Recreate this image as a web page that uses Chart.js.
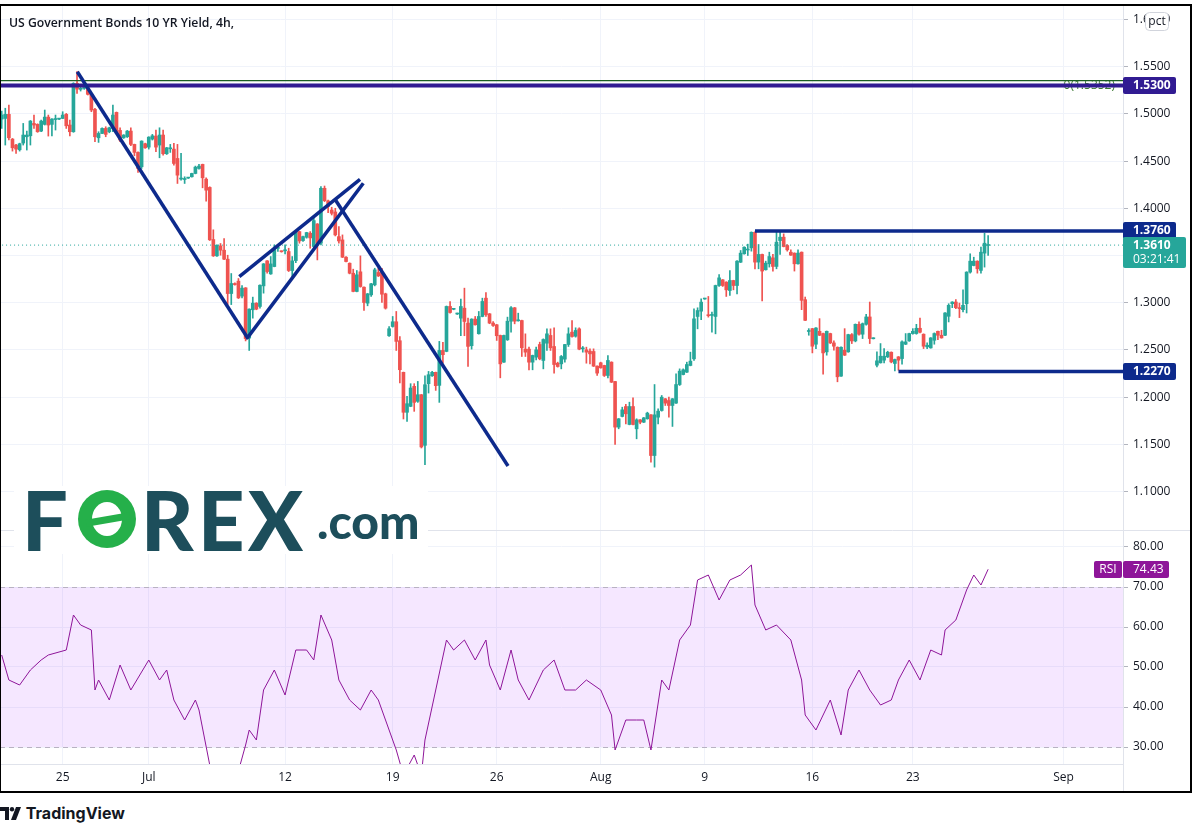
<!DOCTYPE html>
<html><head><meta charset="utf-8">
<script src="https://cdn.jsdelivr.net/npm/chart.js@4.4.1/dist/chart.umd.min.js"></script>
<style>
html,body{margin:0;padding:0;background:#fff;width:1198px;height:829px;overflow:hidden;font-family:'Open Sans',sans-serif;}
canvas{position:absolute;}
#frame{position:absolute;left:0;top:4px;width:1192px;height:789px;border:2px solid #000;border-left-width:1px;box-sizing:border-box;pointer-events:none;z-index:5;}
#title{position:absolute;left:9px;top:13px;font:600 13px 'Open Sans',sans-serif;color:#131722;white-space:nowrap;transform-origin:0 50%;z-index:3;}
#logo{position:absolute;left:14px;top:486px;width:414px;height:68px;background:#fff;z-index:2;}
#logo .big{position:absolute;top:-15px;font:900 81px 'Lato',sans-serif;color:#1d4e5b;}
#logo .o{position:absolute;left:64px;top:4px;width:58px;height:58px;border-radius:50%;background:#25b04a;}
#logo .o i{position:absolute;left:14px;top:12px;width:30px;height:34px;background:#fff;border-radius:50%;}
#logo .o b{position:absolute;left:8px;top:26px;width:44px;height:7px;background:#25b04a;transform:rotate(-10deg);}
#logo .com{position:absolute;left:303px;top:6px;font:900 48px 'Lato',sans-serif;color:#1d4e5b;}
#tv{position:absolute;left:0;top:803px;font:700 16px 'Inter',sans-serif;color:#131722;}
</style></head>
<body>
<canvas id="cPrice" width="1190" height="524" style="left:0;top:6px;width:1190px;height:524px"></canvas>
<canvas id="cRsi" width="1190" height="261" style="left:0;top:530px;width:1190px;height:261px"></canvas>
<div id="title">US Government Bonds 10 YR Yield, 4h,</div>
<div id="logo"><span class="big" style="left:8px">F</span><div class="o"><i></i><b></b></div><span class="big" style="left:127px">R</span><span class="big" style="left:184px">E</span><span class="big" style="left:234px">X</span><span class="com">.com</span></div>
<div id="tv"><svg width="22" height="13" viewBox="0 0 22 13" style="vertical-align:-1px"><path d="M0 0h9v13H5V4H0z" fill="#131722"/><circle cx="12" cy="2.2" r="2.2" fill="#131722"/><path d="M16 0h5l-5 13h-5z" fill="#131722"/></svg> TradingView</div>
<div id="frame"></div>
<script>
// ---- data (4h candles, bar index 0 = first candle) ----
const opens = [
1.4945,1.4952,1.4995,1.4733,1.4670,1.4620,1.4691,1.4758,1.4768,1.4899,
1.4889,1.4818,1.4889,1.4966,1.4889,1.4940,1.4945,1.4952,1.4995,1.4882,
1.4811,1.5323,1.5260,1.5270,1.5277,1.5207,1.5048,1.4747,1.4793,1.4846,
1.4811,1.4846,1.5016,1.4825,1.4747,1.4758,1.4818,1.4677,1.4592,1.4440,
1.4684,1.4648,1.4733,1.4765,1.4670,1.4776,1.4578,1.4630,1.4627,1.4528,
1.4310,1.4305,1.4320,1.4334,1.4369,1.4422,1.4465,1.4309,1.4221,1.3669,
1.3496,1.3602,1.3556,1.3461,1.3097,1.3203,1.3228,1.3070,1.3157,1.2625,
1.2925,1.2995,1.2960,1.3178,1.3443,1.3305,1.3383,1.3575,1.3545,1.3550,
1.3542,1.3341,1.3446,1.3753,1.3658,1.3693,1.3736,1.3595,1.3834,1.3630,
1.4212,1.4078,1.3982,1.3961,1.3700,1.3665,1.3482,1.3418,1.3312,1.3119,
1.3327,1.3164,1.2995,1.3083,1.3189,1.3320,1.3320,1.3094,1.2650,1.2748,
1.2798,1.2597,1.2262,1.1839,1.1902,1.2114,1.1955,1.2025,1.1489,1.2142,
1.2226,1.2262,1.2124,1.2494,1.2484,1.2960,1.2930,1.2880,1.2836,1.2942,
1.2784,1.2544,1.2826,1.2671,1.2854,1.3048,1.2882,1.2784,1.2766,1.2653,
1.2370,1.2607,1.2804,1.2946,1.2808,1.2811,1.2508,1.2508,1.2370,1.2423,
1.2557,1.2388,1.2571,1.2653,1.2536,1.2359,1.2352,1.2402,1.2557,1.2688,
1.2645,1.2723,1.2511,1.2501,1.2487,1.2483,1.2328,1.2363,1.2335,1.2229,
1.2370,1.2165,1.1682,1.1795,1.1900,1.1710,1.1900,1.1664,1.1759,1.1734,
1.1770,1.1812,1.1381,1.1787,1.1858,1.1982,1.1964,1.1911,1.1936,1.2133,
1.2239,1.2264,1.2335,1.2405,1.2854,1.2910,1.3039,1.2868,1.2865,1.2854,
1.3182,1.3242,1.3218,1.3129,1.3235,1.3182,1.3429,1.3518,1.3558,1.3581,
1.3746,1.3430,1.3511,1.3349,1.3412,1.3475,1.3384,1.3658,1.3694,1.3606,
1.3535,1.3525,1.3412,1.3535,1.3032,1.2695,1.2725,1.2560,1.2697,1.2673,
1.2479,1.2673,1.2574,1.2528,1.2222,1.2497,1.2479,1.2662,1.2595,1.2771,
1.2666,1.2771,1.2849,1.2618,1.2338,1.2363,1.2391,1.2426,1.2475,1.2356,
1.2426,1.2408,1.2560,1.2595,1.2673,1.2673,1.2729,1.2666,1.2532,1.2521,
1.2602,1.2697,1.2655,1.2655,1.2856,1.2989,1.3007,1.2940,1.2926,1.2989,
1.3324,1.3394,1.3440,1.3342,1.3525,1.3606];
const highs = [
1.5030,1.5060,1.5094,1.4740,1.4677,1.4690,1.4899,1.4818,1.4930,1.4988,
1.4895,1.4935,1.5041,1.4988,1.4950,1.4988,1.4952,1.5023,1.5005,1.4935,
1.5330,1.5447,1.5288,1.5290,1.5285,1.5217,1.5058,1.4811,1.4853,1.4864,
1.4860,1.5094,1.5020,1.4853,1.4780,1.4825,1.4853,1.4680,1.4599,1.4715,
1.4690,1.4758,1.4783,1.4829,1.4853,1.4829,1.4645,1.4677,1.4687,1.4677,
1.4581,1.4334,1.4327,1.4372,1.4447,1.4465,1.4468,1.4323,1.4228,1.3772,
1.3612,1.3627,1.3680,1.3503,1.3309,1.3210,1.3256,1.3180,1.3160,1.2935,
1.3059,1.3000,1.3190,1.3415,1.3446,1.3489,1.3612,1.3595,1.3548,1.3612,
1.3577,1.3489,1.3764,1.3756,1.3705,1.3746,1.3753,1.3894,1.3838,1.4229,
1.4236,1.4088,1.4011,1.4000,1.3806,1.3718,1.3489,1.3422,1.3355,1.3341,
1.3496,1.3168,1.3098,1.3204,1.3365,1.3365,1.3365,1.3101,1.2748,1.2854,
1.2907,1.2642,1.2265,1.2008,1.2142,1.2142,1.2166,1.2028,1.2226,1.2272,
1.2272,1.2265,1.2590,1.2579,1.2965,1.3013,1.2940,1.2890,1.3037,1.3154,
1.2836,1.2830,1.2854,1.2907,1.3048,1.3108,1.2886,1.2801,1.2770,1.2657,
1.2657,1.2847,1.2960,1.2950,1.2889,1.2815,1.2670,1.2529,1.2445,1.2529,
1.2582,1.2617,1.2723,1.2723,1.2734,1.2370,1.2441,1.2560,1.2734,1.2811,
1.2734,1.2734,1.2536,1.2529,1.2511,1.2511,1.2331,1.2370,1.2338,1.2441,
1.2374,1.2168,1.1773,1.1893,1.1922,1.1946,1.1992,1.1770,1.1762,1.1784,
1.1840,1.1815,1.2133,1.1876,1.2017,1.1985,1.1999,1.1985,1.2246,1.2299,
1.2299,1.2370,1.2476,1.2935,1.2946,1.3041,1.3046,1.3066,1.2900,1.3186,
1.3299,1.3246,1.3222,1.3341,1.3238,1.3447,1.3553,1.3592,1.3620,1.3750,
1.3750,1.3616,1.3515,1.3440,1.3535,1.3511,1.3746,1.3746,1.3729,1.3616,
1.3560,1.3528,1.3560,1.3538,1.3060,1.2725,1.2728,1.2736,1.2831,1.2677,
1.2700,1.2677,1.2595,1.2532,1.2532,1.2725,1.2666,1.2673,1.2775,1.2796,
1.2785,1.2877,1.3007,1.2628,1.2479,1.2567,1.2514,1.2486,1.2479,1.2402,
1.2430,1.2595,1.2673,1.2677,1.2725,1.2771,1.2838,1.2670,1.2574,1.2630,
1.2680,1.2700,1.2708,1.2895,1.2989,1.3011,1.3032,1.2996,1.3137,1.3328,
1.3518,1.3482,1.3444,1.3588,1.3736,1.3711];
const lows = [
1.4846,1.4670,1.4723,1.4606,1.4581,1.4606,1.4670,1.4617,1.4670,1.4846,
1.4805,1.4811,1.4882,1.4765,1.4768,1.4829,1.4940,1.4950,1.4846,1.4768,
1.4805,1.5217,1.5242,1.5260,1.5200,1.5023,1.4705,1.4698,1.4790,1.4758,
1.4800,1.4811,1.4793,1.4705,1.4740,1.4750,1.4663,1.4556,1.4380,1.4422,
1.4635,1.4627,1.4723,1.4599,1.4535,1.4563,1.4570,1.4592,1.4457,1.4263,
1.4298,1.4263,1.4316,1.4330,1.4365,1.4415,1.4217,1.4076,1.3659,1.3490,
1.3490,1.3503,1.3455,1.2980,1.2980,1.3185,1.3044,1.3050,1.2595,1.2494,
1.2836,1.2925,1.2942,1.3101,1.3312,1.3300,1.3380,1.3542,1.3535,1.3517,
1.3330,1.3270,1.3425,1.3630,1.3650,1.3683,1.3577,1.3577,1.3453,1.3612,
1.4071,1.3954,1.3929,1.3707,1.3630,1.3478,1.3432,1.3305,1.3115,1.3115,
1.3164,1.2918,1.2967,1.3066,1.3178,1.3277,1.3002,1.2932,1.2642,1.2741,
1.2494,1.2149,1.1768,1.1743,1.1898,1.1849,1.1944,1.1461,1.1285,1.2043,
1.2219,1.2071,1.1944,1.2360,1.2480,1.2890,1.2925,1.2875,1.2650,1.2650,
1.2325,1.2508,1.2762,1.2667,1.2850,1.2854,1.2777,1.2748,1.2600,1.2204,
1.2366,1.2600,1.2688,1.2776,1.2804,1.2430,1.2430,1.2289,1.2289,1.2395,
1.2395,1.2299,1.2494,1.2494,1.2254,1.2317,1.2299,1.2370,1.2536,1.2635,
1.2635,1.2501,1.2476,1.2359,1.2352,1.2324,1.2229,1.2306,1.2218,1.2204,
1.2154,1.1498,1.1664,1.1790,1.1717,1.1706,1.1706,1.1558,1.1717,1.1730,
1.1766,1.1311,1.1258,1.1717,1.1851,1.1911,1.1787,1.1689,1.1932,1.2123,
1.2235,1.2260,1.2331,1.2388,1.2723,1.2819,1.3036,1.2847,1.2688,1.2670,
1.3172,1.3172,1.3066,1.3076,1.3136,1.3094,1.3425,1.3514,1.3500,1.3546,
1.3359,1.3359,1.3018,1.3345,1.3377,1.3335,1.3359,1.3511,1.3591,1.3546,
1.3500,1.3335,1.3408,1.2926,1.2810,1.2655,1.2468,1.2514,1.2651,1.2243,
1.2444,1.2567,1.2497,1.2162,1.2218,1.2440,1.2475,1.2567,1.2585,1.2655,
1.2620,1.2761,1.2567,1.2616,1.2320,1.2360,1.2363,1.2419,1.2363,1.2278,
1.2285,1.2349,1.2556,1.2591,1.2666,1.2666,1.2680,1.2514,1.2514,1.2518,
1.2560,1.2609,1.2624,1.2651,1.2796,1.2947,1.2937,1.2842,1.2901,1.2891,
1.3313,1.3390,1.3313,1.3313,1.3377,1.3500];
const closes = [
1.4988,1.4995,1.4747,1.4641,1.4627,1.4684,1.4776,1.4776,1.4924,1.4882,
1.4811,1.4924,1.4966,1.4882,1.4945,1.4945,1.4947,1.4988,1.4874,1.4811,
1.5323,1.5263,1.5266,1.5277,1.5207,1.5041,1.4758,1.4793,1.4846,1.4783,
1.4853,1.4988,1.4811,1.4723,1.4776,1.4818,1.4677,1.4592,1.4422,1.4712,
1.4641,1.4754,1.4768,1.4648,1.4776,1.4578,1.4641,1.4634,1.4475,1.4351,
1.4318,1.4312,1.4323,1.4369,1.4436,1.4447,1.4323,1.4192,1.3666,1.3496,
1.3609,1.3556,1.3461,1.3097,1.3203,1.3192,1.3051,1.3154,1.2620,1.2932,
1.2995,1.2932,1.3185,1.3411,1.3330,1.3411,1.3577,1.3580,1.3540,1.3555,
1.3341,1.3443,1.3753,1.3654,1.3700,1.3743,1.3686,1.3870,1.3630,1.4212,
1.4081,1.4018,1.3947,1.3718,1.3654,1.3482,1.3436,1.3312,1.3119,1.3295,
1.3171,1.3002,1.3094,1.3200,1.3348,1.3284,1.3090,1.2942,1.2724,1.2798,
1.2590,1.2290,1.1839,1.1930,1.2096,1.1944,1.2025,1.1472,1.2131,1.2237,
1.2262,1.2121,1.2494,1.2449,1.2960,1.2896,1.2934,1.2884,1.2960,1.2801,
1.2537,1.2826,1.2766,1.2854,1.3013,1.2872,1.2784,1.2759,1.2650,1.2352,
1.2653,1.2804,1.2946,1.2804,1.2811,1.2522,1.2476,1.2370,1.2441,1.2501,
1.2405,1.2610,1.2670,1.2522,1.2345,1.2324,1.2430,1.2557,1.2670,1.2642,
1.2706,1.2508,1.2514,1.2476,1.2458,1.2328,1.2254,1.2310,1.2229,1.2388,
1.2158,1.1682,1.1770,1.1865,1.1823,1.1900,1.1710,1.1759,1.1734,1.1780,
1.1830,1.1381,1.1812,1.1851,1.1999,1.1936,1.1911,1.1982,1.2133,1.2275,
1.2289,1.2345,1.2381,1.2829,1.2917,1.3006,1.3043,1.2862,1.2868,1.3182,
1.3263,1.3182,1.3136,1.3235,1.3182,1.3440,1.3525,1.3588,1.3562,1.3746,
1.3430,1.3511,1.3335,1.3419,1.3489,1.3384,1.3641,1.3694,1.3595,1.3560,
1.3504,1.3412,1.3525,1.3025,1.2813,1.2700,1.2539,1.2732,1.2655,1.2468,
1.2697,1.2574,1.2539,1.2215,1.2528,1.2444,1.2662,1.2595,1.2771,1.2666,
1.2778,1.2849,1.2620,1.2622,1.2384,1.2433,1.2433,1.2475,1.2373,1.2398,
1.2391,1.2585,1.2585,1.2673,1.2697,1.2729,1.2687,1.2539,1.2549,1.2627,
1.2673,1.2655,1.2627,1.2891,1.2972,1.3007,1.2947,1.2937,1.2972,1.3324,
1.3440,1.3440,1.3359,1.3535,1.3630,1.3610];

// RSI(14) readings: bar index and value
const rsiBars = [0,2,5,8,11,13,18,20,22,25,26,27,30,33,36,39,41,44,46,48,51,54,55,58,60,62,66,68,69,71,73,76,79,82,85,87,89,92,94,97,100,103,105,108,110,112,115,117,118,121,124,126,129,132,135,136,139,142,144,147,151,154,157,160,163,167,170,171,174,177,179,181,184,186,189,192,194,197,200,203,206,209,210,213,216,220,223,224,227,231,234,236,239,242,245,248,250,253,256,259,262,263,266,269,271,273,275];
const rsiVals = [53,46.75,45.5,49.25,51.75,53,54.25,63,60.5,59.25,44.25,46.75,41.75,50.5,44.25,48.75,51.75,46.75,49.25,41.75,36.75,41.75,39.25,25.5,19,17,24,30.5,34.25,31.75,44.25,49.25,43,54.25,54.25,51.75,63,56.75,46.75,41.75,39.25,44.25,41.75,34.25,29.25,23,28,23,31.75,44.25,56.75,54.25,56.75,51.75,56.75,50.5,44.25,54.25,46.75,41.75,49.25,51.75,44.25,44.25,46.75,44.25,38,29.25,36.75,36.75,36.75,29.25,46.75,44.25,56.75,60.5,71.75,73,66.75,71.75,73,75.5,65.5,59.25,60.5,56.75,46.75,38,34.25,41.75,33,44.25,49.25,44.25,40.5,41.75,46.75,51.75,46.75,54.25,53,59.25,61.75,69.25,73,70.5,74.43];
const rsiLast = 74.43;

// axis ticks
const tickBars = [17, 41, 79, 109, 138, 167, 196, 226, 254, 296];
const tickLabels = ['25','Jul','12','19','26','Aug','9','16','23','Sep'];
const priceTicks = [1.10,1.15,1.20,1.25,1.30,1.35,1.40,1.45,1.50,1.55,1.60];
const rsiTicks = [30,40,50,60,70,80];

// drawings (bar index, price)
const levelPrices = [1.5300, 1.3760, 1.2270];
const levelStartBars = [-5, 210, 250];
const fibPrice = 1.5352;
const trendSegments = [
  [21.08, 1.5447, 68.75, 1.2615],
  [68.75, 1.2640, 100.81, 1.4265],
  [66.24, 1.3275, 99.89, 1.4307],
  [92.92, 1.4095, 141.15, 1.1270]
];
const countdown = '03:21:41';

// ---- styling / layout ----
const UP = '#26a69a', DN = '#ef5350';
const levelColors = ['#311b92', '#0d2a8c', '#0d2a8c'];
const levelWidths = [4, 3.5, 3.5];
const TREND = '#0d2a8c';
const GRID = '#f0f3fa', AXISLINE = '#e0e3eb', TXT = '#131722';
const RSI_C = '#8e1599';
const FONT = "'Open Sans', sans-serif";
const xMin = -0.474, xMax = 312.6;
const priceMin = 1.0592, priceMax = 1.6143;
const rsiMin = 25.75, rsiMax = 84.25;
const AXIS_W = 67;

const N = closes.length;
const colors = closes.map((c, i) => c >= opens[i] ? UP : DN);
const bodyData = closes.map((c, i) => ({x: i, y: [opens[i], c]}));
const wickData = closes.map((c, i) => ({x: i, y: [lows[i], highs[i]]}));
const lastClose = closes[N - 1];

const lineDs = (pts, color, width, dash, order) => ({
  type: 'line', data: pts, borderColor: color, borderWidth: width, borderDash: dash || [],
  pointRadius: 0, tension: 0, fill: false, order: order, borderCapStyle: 'butt'
});

const datasets = [];
trendSegments.forEach(s => datasets.push(lineDs([{x: s[0], y: s[1]}, {x: s[2], y: s[3]}], TREND, 3.5, null, -3)));
levelPrices.forEach((p, k) => datasets.push(lineDs([{x: levelStartBars[k], y: p}, {x: xMax + 5, y: p}], levelColors[k], levelWidths[k], null, -2)));
datasets.push(lineDs([{x: xMin - 5, y: fibPrice}, {x: xMax + 5, y: fibPrice}], '#1b5e20', 1.2, null, -1));
datasets.push(lineDs([{x: xMin - 5, y: lastClose}, {x: xMax + 5, y: lastClose}], UP, 1, [1, 3], 0));
datasets.push({type: 'bar', data: bodyData, backgroundColor: colors, borderWidth: 0, barThickness: 3, minBarLength: 1, grouped: false, order: 1});
datasets.push({type: 'bar', data: wickData, backgroundColor: colors, borderWidth: 0, barThickness: 1, minBarLength: 1, grouped: false, order: 2});

function rrect(ctx, x, y, w, h, r) {
  ctx.beginPath(); ctx.moveTo(x + r, y); ctx.lineTo(x + w - r, y); ctx.quadraticCurveTo(x + w, y, x + w, y + r);
  ctx.lineTo(x + w, y + h - r); ctx.quadraticCurveTo(x + w, y + h, x + w - r, y + h); ctx.lineTo(x + r, y + h);
  ctx.quadraticCurveTo(x, y + h, x, y + h - r); ctx.lineTo(x, y + r); ctx.quadraticCurveTo(x, y, x + r, y); ctx.closePath();
}

const priceLabels = {
  id: 'priceLabels',
  beforeDatasetsDraw(chart) {
    const ctx = chart.ctx, y = chart.scales.y.getPixelForValue(fibPrice) + 5;
    ctx.save(); ctx.fillStyle = '#3d7a33'; ctx.font = '12px ' + FONT; ctx.textAlign = 'right'; ctx.textBaseline = 'middle';
    ctx.fillText('0(' + fibPrice.toFixed(4) + ')', 1115, y); ctx.restore();
  },
  afterDraw(chart) {
    const ctx = chart.ctx, s = chart.scales.y, L = chart.chartArea.right;
    ctx.save();
    ctx.textBaseline = 'middle'; ctx.textAlign = 'left';
    levelPrices.forEach((p, k) => {
      const y = Math.round(s.getPixelForValue(p));
      ctx.fillStyle = levelColors[k]; rrect(ctx, L, y - 9, 53, 17, 2); ctx.fill();
      ctx.fillStyle = '#fff'; ctx.font = 'bold 12px ' + FONT; ctx.fillText(p.toFixed(4), L + 10, y);
    });
    const y = Math.round(s.getPixelForValue(lastClose));
    ctx.fillStyle = UP; rrect(ctx, L, y - 8, 63, 31, 2); ctx.fill();
    ctx.fillStyle = '#fff'; ctx.font = 'bold 12px ' + FONT; ctx.fillText(lastClose.toFixed(4), L + 10, y + 1);
    ctx.font = '12px ' + FONT; ctx.fillText(countdown, L + 10, y + 15);
    // pct button
    ctx.fillStyle = '#fff'; ctx.strokeStyle = '#d1d4dc'; ctx.lineWidth = 1;
    rrect(ctx, 1145.5, 6.5, 23, 18, 4); ctx.fill(); ctx.stroke();
    ctx.fillStyle = TXT; ctx.font = '12px ' + FONT; ctx.textAlign = 'center'; ctx.fillText('pct', 1157, 15.5);
    ctx.restore();
  }
};

const baseOpts = {
  responsive: false, animation: false, devicePixelRatio: 1, events: [],
  layout: {padding: 0},
  plugins: {legend: {display: false}, tooltip: {enabled: false}}
};
const noPadY = w => s => { s.width = w; s.paddingTop = 0; s.paddingBottom = 0; };
const noPadX = h => s => { s.height = h; s.paddingLeft = 0; s.paddingRight = 0; };

new Chart(document.getElementById('cPrice'), {
  type: 'bar',
  data: {datasets},
  options: Object.assign({}, baseOpts, {
    scales: {
      x: {type: 'linear', min: xMin, max: xMax, offset: false,
          afterBuildTicks: s => { s.ticks = tickBars.map(v => ({value: v})); },
          ticks: {display: false}, grid: {color: GRID, drawTicks: false, offset: false}, border: {display: false},
          afterFit: noPadX(0)},
      y: {position: 'right', min: priceMin, max: priceMax,
          afterBuildTicks: s => { s.ticks = priceTicks.map(v => ({value: v})); },
          ticks: {callback: v => v.toFixed(4), color: TXT, font: {size: 12, family: FONT}, padding: 5, autoSkip: false},
          grid: {color: GRID, tickColor: '#b2b5be', tickLength: 5},
          border: {color: AXISLINE},
          afterFit: noPadY(AXIS_W)}
    }
  }),
  plugins: [priceLabels]
});

const rsiDecor = {
  id: 'rsiDecor',
  beforeDatasetsDraw(chart) {
    const ctx = chart.ctx, s = chart.scales.y, a = chart.chartArea;
    const y70 = s.getPixelForValue(70), y30 = s.getPixelForValue(30);
    ctx.save();
    ctx.fillStyle = 'rgba(153,21,255,0.10)'; ctx.fillRect(a.left, y70, a.right - a.left, y30 - y70);
    ctx.strokeStyle = '#b8b2c2'; ctx.lineWidth = 1; ctx.setLineDash([5, 4]);
    [y70, y30].forEach(y => { ctx.beginPath(); ctx.moveTo(a.left, Math.round(y) + 0.5); ctx.lineTo(a.right, Math.round(y) + 0.5); ctx.stroke(); });
    ctx.restore();
  },
  afterDraw(chart) {
    const ctx = chart.ctx, s = chart.scales.y, a = chart.chartArea;
    ctx.save();
    ctx.strokeStyle = AXISLINE; ctx.lineWidth = 1;
    ctx.beginPath(); ctx.moveTo(0, 0.5); ctx.lineTo(1190, 0.5); ctx.stroke();
    ctx.beginPath(); ctx.moveTo(a.right + 0.5, 0); ctx.lineTo(a.right + 0.5, chart.height); ctx.stroke();
    const y = Math.round(s.getPixelForValue(rsiLast));
    ctx.fillStyle = RSI_C;
    rrect(ctx, a.right - 29, y - 8, 28, 17, 2); ctx.fill();
    rrect(ctx, a.right, y - 8, 46, 17, 2); ctx.fill();
    ctx.fillStyle = '#fff'; ctx.font = '12px ' + FONT; ctx.textBaseline = 'middle'; ctx.textAlign = 'center';
    ctx.fillText('RSI', a.right - 15, y + 1);
    ctx.textAlign = 'left'; ctx.fillText(rsiLast.toFixed(2), a.right + 10, y + 1);
    ctx.restore();
  }
};

new Chart(document.getElementById('cRsi'), {
  type: 'line',
  data: {datasets: [{data: rsiBars.map((b, k) => ({x: b, y: rsiVals[k]})), borderColor: RSI_C, borderWidth: 1,
    pointRadius: 0, tension: 0, fill: false}]},
  options: Object.assign({}, baseOpts, {
    scales: {
      x: {type: 'linear', min: xMin, max: xMax, offset: false,
          afterBuildTicks: s => { s.ticks = tickBars.map(v => ({value: v})); },
          ticks: {callback: v => tickLabels[tickBars.indexOf(v)], color: TXT, font: {size: 12, family: FONT}, padding: 6, maxRotation: 0, autoSkip: false},
          grid: {color: GRID, drawTicks: false, offset: false}, border: {color: AXISLINE},
          afterFit: noPadX(27)},
      y: {position: 'right', min: rsiMin, max: rsiMax,
          afterBuildTicks: s => { s.ticks = rsiTicks.map(v => ({value: v})); },
          ticks: {callback: v => v.toFixed(2), color: TXT, font: {size: 12, family: FONT}, padding: 5, autoSkip: false},
          grid: {color: GRID, tickColor: '#b2b5be', tickLength: 5},
          border: {color: AXISLINE},
          afterFit: noPadY(AXIS_W)}
    }
  }),
  plugins: [rsiDecor]
});

const t = document.getElementById('title');
const tw = t.getBoundingClientRect().width;
t.style.transform = 'scaleX(' + (225 / tw) + ')';
</script>
</body></html>
